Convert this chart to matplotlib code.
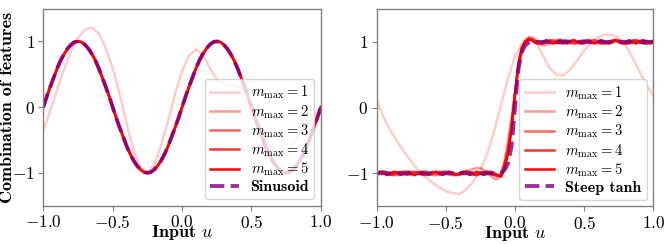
import numpy as np
import matplotlib.pyplot as plt

plt.rcParams['font.family'] = 'serif'
plt.rcParams['font.serif'] = ['cmr10']
plt.rcParams['mathtext.fontset'] = 'cm'
plt.rcParams['axes.formatter.use_mathtext'] = True

# sample positions along the input axis
U_FINE = np.linspace(-1, 1, 81)
U_COARSE = np.linspace(-1, 1, 41)

M_LABELS = ['$m_{\\mathrm{max}} = 1$', '$m_{\\mathrm{max}} = 2$', '$m_{\\mathrm{max}} = 3$',
            '$m_{\\mathrm{max}} = 4$', '$m_{\\mathrm{max}} = 5$']

# ---- left panel: sinusoid (read on U_FINE) ----
SINUSOID = [0.0, 0.16, 0.31, 0.45, 0.59, 0.71, 0.81, 0.89, 0.95, 0.99, 1.0,
            0.99, 0.95, 0.89, 0.81, 0.71, 0.59, 0.45, 0.31, 0.16, 0.0,
            -0.16, -0.31, -0.45, -0.59, -0.71, -0.81, -0.89, -0.95, -0.99, -1.0,
            -0.99, -0.95, -0.89, -0.81, -0.71, -0.59, -0.45, -0.31, -0.16, 0.0,
            0.16, 0.31, 0.45, 0.59, 0.71, 0.81, 0.89, 0.95, 0.99, 1.0,
            0.99, 0.95, 0.89, 0.81, 0.71, 0.59, 0.45, 0.31, 0.16, 0.0,
            -0.16, -0.31, -0.45, -0.59, -0.71, -0.81, -0.89, -0.95, -0.99, -1.0,
            -0.99, -0.95, -0.89, -0.81, -0.71, -0.59, -0.45, -0.31, -0.16, 0.0]
# m_max = 1 (read on U_COARSE)
SIN_M1 = [-0.36, -0.05, 0.27, 0.58, 0.85, 1.05, 1.18, 1.21, 1.12, 0.9,
          0.6, 0.2, -0.25, -0.65, -0.92, -1.0, -0.88, -0.58, -0.2, 0.2,
          0.55, 0.78, 0.88, 0.8, 0.6, 0.42, 0.35, 0.33, 0.32, 0.25,
          0.05, -0.22, -0.47, -0.63, -0.7, -0.66, -0.55, -0.4, -0.26, -0.13,
          -0.05]
# m_max = 2..5 sit on top of the sinusoid
SIN_M2 = SINUSOID
SIN_M3 = SINUSOID
SIN_M4 = SINUSOID
SIN_M5 = SINUSOID

# ---- right panel: steep tanh (read on U_FINE) ----
TANH = [-1.0] * 36 + [-0.99, -0.95, -0.85, -0.59, 0.0, 0.59, 0.85, 0.95, 0.99] + [1.0] * 36
# m_max = 1 (read on U_COARSE)
TANH_M1 = [0.11, -0.15, -0.35, -0.52, -0.68, -0.82, -0.95, -1.05, -1.14, -1.21,
           -1.27, -1.3, -1.32, -1.24, -1.12, -0.96, -0.7, -0.35, 0.05, 0.45,
           0.78, 0.98, 1.07, 1.0, 0.8, 0.6, 0.5, 0.49, 0.58, 0.72,
           0.87, 0.98, 1.07, 1.11, 1.11, 1.06, 0.95, 0.76, 0.55, 0.34,
           0.19]
TANH_M2 = [-1.0, -0.98, -0.97, -0.98, -1.0, -1.02, -1.03, -1.02,
           -1.0, -0.98, -0.97, -0.98, -1.0, -1.02, -1.03, -1.02,
           -1.0, -0.98, -0.97, -0.98, -1.0, -1.02, -1.03, -1.02,
           -1.0, -0.98, -0.96, -0.95, -0.93, -0.92, -0.92, -0.95, -0.99, -1.04, -1.08, -1.09,
           -1.0, -0.8, -0.5, -0.15, 0.25, 0.6, 0.88, 1.02, 1.07,
           1.07, 1.03, 0.98, 0.95, 0.95, 0.97, 1.0, 1.03, 1.04, 1.03, 1.0, 0.98,
           0.97, 0.98, 1.0, 1.02, 1.03, 1.02, 1.0, 0.98, 0.97, 0.98, 1.0, 1.02,
           1.03, 1.02, 1.0, 0.98, 0.97, 0.98, 1.0, 1.02, 1.03, 1.02, 1.0, 0.97]
TANH_M3 = [-1.0, -0.98, -0.97, -0.99, -1.02, -1.03, -1.0, -0.98, -0.97, -0.99, -1.02, -1.03,
           -1.0, -0.98, -0.97, -0.99, -1.02, -1.03, -1.0, -0.98, -0.97, -0.99, -1.02, -1.03,
           -1.0, -0.98, -0.97, -0.99, -1.02, -1.03, -1.0, -0.98, -0.97, -0.99, -1.03, -1.04,
           -1.02, -0.85, -0.62, -0.25, 0.18, 0.62, 0.88, 1.0, 1.05,
           1.04, 1.01, 0.97, 0.97, 1.0, 1.02, 1.03, 1.0, 0.98, 0.97, 1.0, 1.02,
           1.03, 1.0, 0.98, 0.97, 1.0, 1.02, 1.03, 1.0, 0.98, 0.97, 1.0, 1.02,
           1.03, 1.0, 0.98, 0.97, 1.0, 1.02, 1.03, 1.0, 0.98, 0.97, 0.99, 1.02]
TANH_M4 = [-1.0, -0.98, -0.985, -1.015, -1.02, -1.0, -0.98, -0.985, -1.015, -1.02,
           -1.0, -0.98, -0.985, -1.015, -1.02, -1.0, -0.98, -0.985, -1.015, -1.02,
           -1.0, -0.98, -0.985, -1.015, -1.02, -1.0, -0.98, -0.985, -1.015, -1.02,
           -1.0, -0.98, -0.985, -1.015, -1.02, -1.04,
           -1.04, -0.88, -0.66, -0.3, 0.2, 0.66, 0.9, 1.0, 1.04,
           1.03, 0.99, 0.98, 0.985, 1.015, 1.02, 1.0, 0.98, 0.985, 1.015, 1.02,
           1.0, 0.98, 0.985, 1.015, 1.02, 1.0, 0.98, 0.985, 1.015, 1.02, 1.0,
           0.98, 0.985, 1.015, 1.02, 1.0, 0.98, 0.985, 1.015, 1.02, 1.0, 0.98,
           0.98, 1.0, 1.02]
TANH_M5 = [-1.0, -0.975, -1.0, -1.025, -1.0, -0.975, -1.0, -1.025, -1.0, -0.975, -1.0, -1.025,
           -1.0, -0.975, -1.0, -1.025, -1.0, -0.975, -1.0, -1.025, -1.0, -0.975, -1.0, -1.025,
           -1.0, -0.975, -1.0, -1.025, -1.0, -0.975, -1.0, -1.025, -1.0, -0.975, -1.0, -1.025,
           -1.05, -0.92, -0.7, -0.32, 0.22, 0.68, 0.92, 1.01, 1.04,
           1.02, 0.98, 0.975, 1.0, 1.025, 1.0, 0.975, 1.0, 1.025, 1.0, 0.975, 1.0,
           1.025, 1.0, 0.975, 1.0, 1.025, 1.0, 0.975, 1.0, 1.025, 1.0, 0.975, 1.0,
           1.025, 1.0, 0.975, 1.0, 1.025, 1.0, 0.975, 1.0, 1.025, 1.0, 0.975, 1.0]

ALPHAS = [0.2, 0.4, 0.6, 0.8, 1.0]


def draw_panel(ax, m1, fine_curves, target, target_label):
    ax.plot(U_COARSE, m1, color='red', alpha=ALPHAS[0], lw=1.8, label=M_LABELS[0])
    for i, curve in enumerate(fine_curves):
        ax.plot(U_FINE, curve, color='red', alpha=ALPHAS[i + 1], lw=1.8, label=M_LABELS[i + 1])
    ax.plot(U_FINE, target, color='purple', alpha=0.8, lw=2.8, ls='--', label=target_label)

    ax.set_xlim(-1, 1)
    ax.set_ylim(-1.5, 1.5)
    ax.set_xticks([-1.0, -0.5, 0.0, 0.5, 1.0])
    ax.set_yticks([-1, 0, 1])
    ax.tick_params(labelsize=12.5, color='0.5', length=3.5, width=0.8, pad=2.5)
    for s in ax.spines.values():
        s.set_color('0.5')
        s.set_linewidth(1.0)
    ax.set_xlabel('Input $u$', family='cmb10', fontsize=13)
    ax.xaxis.set_label_coords(0.5, -0.088)

    leg = ax.legend(loc='lower right', fontsize=10.5, labelspacing=0.12, framealpha=0.8,
                    handlelength=2.0, borderpad=0.35, borderaxespad=0.45)
    leg.get_texts()[-1].set_fontfamily('cmb10')
    leg.get_texts()[-1].set_fontsize(11.5)


fig = plt.figure(figsize=(6.64, 2.44), dpi=100)
ax1 = fig.add_axes([0.0652, 0.157, 0.418, 0.808])
ax2 = fig.add_axes([0.5673, 0.155, 0.4166, 0.808])

draw_panel(ax1, SIN_M1, [SIN_M2, SIN_M3, SIN_M4, SIN_M5], SINUSOID, 'Sinusoid')
draw_panel(ax2, TANH_M1, [TANH_M2, TANH_M3, TANH_M4, TANH_M5], TANH, 'Steep tanh')

ax1.set_ylabel('Combination of features', family='cmb10', fontsize=13)
ax1.yaxis.set_label_coords(-0.103, 0.5)

plt.savefig('out.png', dpi=100)
